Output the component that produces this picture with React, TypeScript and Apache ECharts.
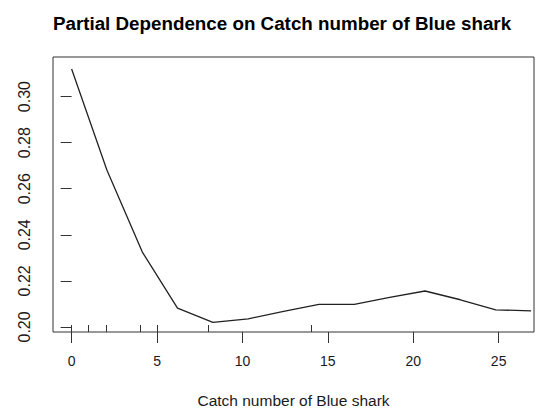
import React, { useEffect, useRef } from "react";
import * as echarts from "echarts";

const chartTitle = "Partial Dependence on Catch number of Blue shark";
const xAxisTitle = "Catch number of Blue shark";
const catchNumber = [0, 2.07, 4.14, 6.2, 8.27, 10.34, 12.41, 14.48, 16.55, 18.62, 20.69, 22.76, 24.83, 26.9];
const partialDependence = [0.312, 0.268, 0.2325, 0.2082, 0.202, 0.2035, 0.2068, 0.2098, 0.2098, 0.2128, 0.2156, 0.2118, 0.2074, 0.207];
const xTicks = [0, 5, 10, 15, 20, 25];
const yTicks = [0.2, 0.22, 0.24, 0.26, 0.28, 0.3];
const rugDeciles = [0, 1, 2, 4, 5, 8, 14];

const FONT = "'Liberation Sans', Arial, sans-serif";
const INK = "#1a1a1a";

export default function App() {
  const ref = useRef<HTMLDivElement>(null);
  useEffect(() => {
    if (!ref.current) return;
    const chart = echarts.init(ref.current, undefined, { renderer: "svg" });
    const xMin = -1.09;
    const xMax = 27.07;
    chart.setOption({
      animation: false,
      backgroundColor: "#ffffff",
      textStyle: { fontFamily: FONT },
      title: {
        text: chartTitle,
        left: 277,
        textAlign: "center",
        top: 9,
        textStyle: { fontFamily: FONT, fontSize: 18.8, fontWeight: "bold", color: "#000" },
      },
      grid: {
        left: 53,
        right: 10,
        top: 57,
        bottom: 83,
        show: true,
        borderColor: "#333",
        borderWidth: 1,
        backgroundColor: "transparent",
      },
      xAxis: [
        {
          type: "value",
          min: xMin,
          max: xMax,
          name: xAxisTitle,
          nameLocation: "middle",
          nameGap: 60,
          nameTextStyle: { fontFamily: FONT, fontSize: 15.5, color: INK },
          axisLine: { show: false },
          splitLine: { show: false },
          axisTick: { show: true, length: 11, customValues: xTicks, lineStyle: { color: "#333", width: 1 } },
          axisLabel: { show: true, customValues: xTicks, margin: 22, fontSize: 14, color: INK, fontFamily: FONT },
        },
        {
          type: "value",
          min: xMin,
          max: xMax,
          position: "bottom",
          axisLine: { show: false },
          splitLine: { show: false },
          axisTick: { show: true, inside: true, length: 7, customValues: rugDeciles, lineStyle: { color: "#333", width: 1 } },
          axisLabel: { show: false },
        },
      ],
      yAxis: {
        type: "value",
        min: 0.1978,
        max: 0.3172,
        axisLine: { show: false },
        splitLine: { show: false },
        axisTick: { show: true, length: 11, customValues: yTicks, lineStyle: { color: "#333", width: 1 } },
        axisLabel: {
          show: true,
          customValues: yTicks,
          rotate: 90,
          margin: 21,
          fontSize: 16,
          color: INK,
          fontFamily: FONT,
          formatter: (v: number) => v.toFixed(2),
        },
      },
      series: [
        {
          type: "line",
          xAxisIndex: 0,
          data: catchNumber.map((x, i) => [x, partialDependence[i]]),
          showSymbol: false,
          lineStyle: { color: "#222", width: 1.3 },
        },
      ],
    });
    return () => chart.dispose();
  }, []);
  return <div ref={ref} style={{ position: "fixed", left: 0, top: 0, width: 544, height: 415 }} />;
}
